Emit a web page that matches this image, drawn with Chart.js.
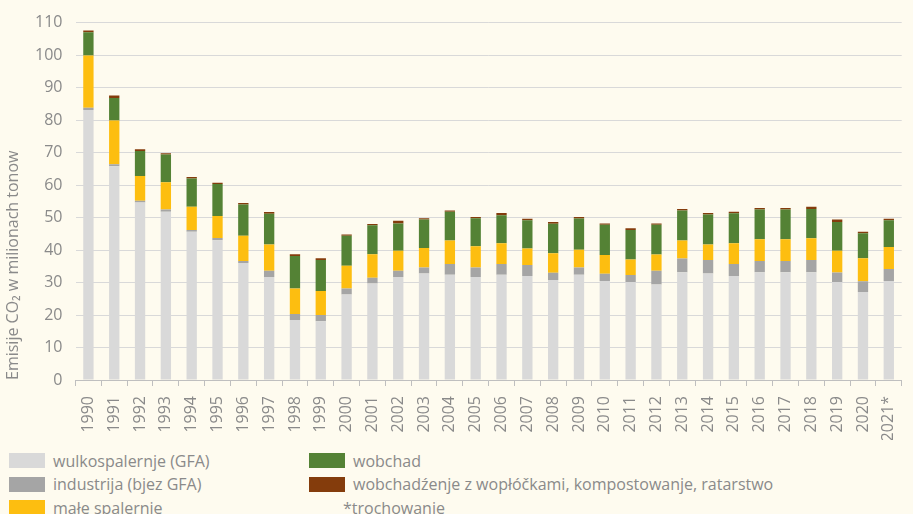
<!DOCTYPE html>
<html>
<head>
<meta charset="utf-8">
<script src="https://cdn.jsdelivr.net/npm/chart.js@4.4.1/dist/chart.umd.min.js"></script>
<style>
  body { margin: 0; background: #fefbef; overflow: hidden; width: 913px; height: 514px; position: relative; }
  #wrap { position: absolute; left: 0; top: 0; width: 918px; height: 440px; }
  #legenda {
    position: absolute; left: 9px; top: 449px;
    display: grid; grid-template-columns: 300px 480px; grid-template-rows: 23.5px 23.5px 23.5px;
    grid-auto-flow: column;
    font-family: "Open Sans", sans-serif; font-weight: 400; font-size: 16px; color: #8a8a8a;
  }
  .pol { display: flex; align-items: center; white-space: nowrap; line-height: 16px; }
  .kw { width: 36px; height: 15px; margin-right: 8px; flex: none; }
  .pm { padding-left: 34px; }
</style>
</head>
<body>
<div id="wrap"><canvas id="grafik"></canvas></div>
<div id="legenda"></div>
<script>
const lěta = ["1990","1991","1992","1993","1994","1995","1996","1997","1998","1999","2000","2001","2002","2003","2004","2005","2006","2007","2008","2009","2010","2011","2012","2013","2014","2015","2016","2017","2018","2019","2020","2021*"];
const wulkospalernje = [83.1,65.8,54.6,51.8,45.6,43.0,36.0,31.7,18.5,18.1,26.3,29.7,31.7,32.8,32.4,31.7,32.4,32.0,30.8,32.4,30.5,30.2,29.4,33.2,32.8,32.0,33.2,33.2,33.2,30.2,27.1,30.5];
const industrija = [0.7,0.6,0.6,0.7,0.6,0.7,0.6,1.9,1.8,1.9,1.9,1.8,1.9,1.8,3.3,2.9,3.3,3.4,2.2,2.2,2.2,2.1,4.2,4.2,4.1,3.7,3.4,3.4,3.7,2.9,3.3,3.7];
const małeSpalernje = [16.1,13.5,7.6,8.4,7.1,6.8,7.8,8.1,7.9,7.4,7.0,7.2,6.2,6.0,7.2,6.6,6.4,5.1,6.0,5.5,5.8,4.8,5.0,5.5,4.8,6.4,6.7,6.7,6.7,6.7,7.1,6.7];
const wobchad = [7.1,6.9,7.7,8.5,8.7,9.8,9.6,9.5,10.0,9.5,9.2,8.9,8.4,8.8,8.9,8.6,8.6,8.7,9.1,9.6,9.3,9.1,9.2,9.3,9.2,9.2,9.2,9.2,9.0,8.8,7.7,8.3];
const wobchadźenje = [0.6,0.8,0.5,0.4,0.5,0.4,0.5,0.5,0.5,0.6,0.4,0.4,0.8,0.4,0.4,0.4,0.7,0.4,0.5,0.5,0.4,0.5,0.4,0.4,0.5,0.5,0.4,0.4,0.7,0.8,0.4,0.4];

const pismo = { family: "'Open Sans', sans-serif", weight: 400 };
const šěry = '#8a8a8a';

const serije = [
  { label: 'wulkospalernje (GFA)', data: wulkospalernje, backgroundColor: '#d9d9d9' },
  { label: 'industrija (bjez GFA)', data: industrija, backgroundColor: '#a5a5a5' },
  { label: 'małe spalernje', data: małeSpalernje, backgroundColor: '#fdbe10' },
  { label: 'wobchad', data: wobchad, backgroundColor: '#548235' },
  { label: 'wobchadźenje z wopłóčkami, kompostowanje, ratarstwo', data: wobchadźenje, backgroundColor: '#843c0c' }
];

const chart = new Chart(document.getElementById('grafik'), {
  type: 'bar',
  data: {
    labels: lěta,
    datasets: serije.map(s => ({ ...s, borderWidth: 0, categoryPercentage: 1, barPercentage: 0.4 }))
  },
  options: {
    responsive: true,
    maintainAspectRatio: false,
    animation: false,
    layout: { padding: { top: 16, right: 0, left: 0, bottom: 0 } },
    plugins: { legend: { display: false }, tooltip: { enabled: false } },
    scales: {
      x: {
        stacked: true,
        afterFit: s => { s.height = 60; },
        grid: { display: true, drawOnChartArea: false, drawTicks: true, tickLength: 6, color: '#bfbfbf', offset: true },
        border: { color: '#bfbfbf' },
        ticks: { color: šěry, font: { ...pismo, size: 16 }, minRotation: 90, maxRotation: 90, padding: 10, autoSkip: false }
      },
      y: {
        stacked: true,
        min: 0, max: 110,
        afterFit: s => { s.width = 75.5; },
        grid: { color: '#d9d9d9', drawTicks: false },
        border: { display: false },
        ticks: { stepSize: 10, color: šěry, font: { ...pismo, size: 16 }, padding: 13 },
        title: { display: true, text: 'Emisije CO₂ w milionach tonow', color: šěry, font: { ...pismo, size: 16 }, align: 'start', padding: { top: 4, bottom: 4 } }
      }
    }
  }
});

// legenda: dwě kolumnje, 3 rjady
const legenda = document.getElementById('legenda');
serije.forEach(s => {
  const p = document.createElement('div');
  p.className = 'pol';
  p.innerHTML = '<span class="kw" style="background:' + s.backgroundColor + '"></span>' + s.label;
  legenda.appendChild(p);
});
const pm = document.createElement('div');
pm.className = 'pol pm';
pm.textContent = '*trochowanje';
legenda.appendChild(pm);
</script>
</body>
</html>
